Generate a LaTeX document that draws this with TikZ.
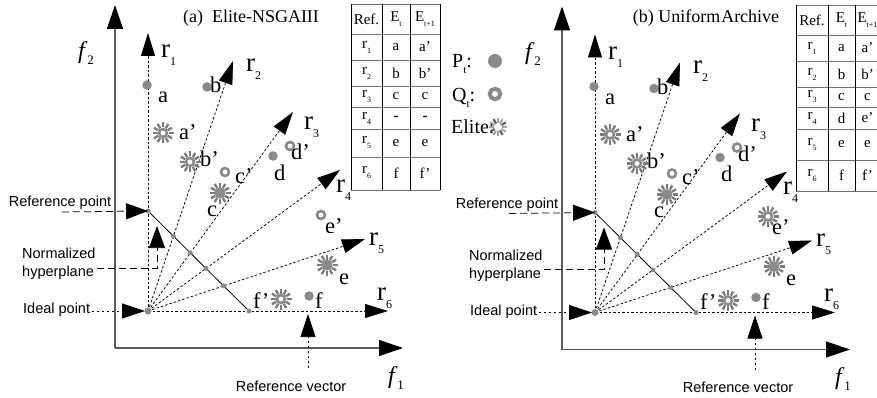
\documentclass[tikz,border=0pt]{standalone}
\usepackage{fontspec}
\setmainfont{Liberation Serif}
\newfontfamily\arialf{Liberation Sans}
\usetikzlibrary{arrows.meta}
\definecolor{axisgray}{HTML}{5A5A5A}
\definecolor{ptgray}{HTML}{8A8A8A}
\definecolor{elitegray}{HTML}{7C7C7C}
\definecolor{tabgray}{HTML}{707070}
\newcommand\rsb[1]{\raisebox{-8pt}{\fontsize{12}{12}\selectfont #1}}
\newcommand\tsb[1]{\raisebox{-5pt}{\fontsize{8}{8}\selectfont #1}}
\newcommand\fsb[1]{\raisebox{-6pt}{\fontsize{13}{13}\selectfont #1}}
\newcommand\lsb[1]{\raisebox{-6pt}{\fontsize{11}{11}\selectfont #1}}
\newcommand\panelcore{%
  \coordinate (o) at (115,348);
  \coordinate (yt) at (115,5);
  \coordinate (xt) at (403,348);
  \draw[axisline] (o) -- (yt);
  \draw[axisline] (o) -- (xt);
  \node[axlab] (f2) at (86,53) {\textit{f}\fsb{2}};
  \node[axlab] (f1) at (396,378) {\textit{f}\fsb{1}};
  \coordinate (ideal) at (148,311);
  \coordinate (ref) at (148,211);
  \coordinate (hend) at (249,311);
  \coordinate (t1) at (148,33);
  \coordinate (t2) at (233,61);
  \coordinate (t3) at (293,112);
  \coordinate (t4) at (340,170);
  \coordinate (t5) at (365,239);
  \coordinate (t6) at (388,311);
  \draw[ray] (ideal) -- (t1);
  \draw[ray] (ideal) -- (t2);
  \draw[ray] (ideal) -- (t3);
  \draw[ray] (ideal) -- (t4);
  \draw[ray] (ideal) -- (t5);
  \draw[ray] (ideal) -- (t6);
  \draw[hyper] (ref) -- (hend);
  \coordinate (h2) at (173.4,236.2);
  \coordinate (h3) at (190.3,252.9);
  \coordinate (h4) at (206,268.4);
  \coordinate (h5) at (223.6,285.9);
  \node[hdot] (nref) at (ref) {};
  \node[hdot] (nh2) at (h2) {};
  \node[hdot] (nh3) at (h3) {};
  \node[hdot] (nh4) at (h4) {};
  \node[hdot] (nh5) at (h5) {};
  \node[hdot] (nhend) at (hend) {};
  \node[idot] (nideal) at (ideal) {};
  \node[rlab] (r1) at (161,58) {r\rsb{1}};
  \node[rlab] (r2) at (246,72) {r\rsb{2}};
  \node[rlab] (r3) at (304,130) {r\rsb{3}};
  \node[rlab] (r4) at (336,193) {r\rsb{4}};
  \node[rlab] (r5) at (369,245) {r\rsb{5}};
  \node[rlab] (r6) at (377,300) {r\rsb{6}};
  % markers
  \node[pdot] (ma) at (147,85) {};
  \node[pdot] (mb) at (207,87) {};
  \pic at (163,133) {elite};
  \node[qring] (map) at (163,133) {};
  \pic at (190,162) {elite};
  \node[qring] (mbp) at (190,162) {};
  \node[qring] (mcp) at (225,172) {};
  \pic at (220,193) {elite};
  \node[pdot,minimum size=11pt] (mc) at (220,193) {};
  \node[pdot] (md) at (273,156) {};
  \node[qring] (mdp) at (290,146) {};
  \pic at (327,265) {elite};
  \node[pdot,minimum size=11pt] (me) at (327,265) {};
  \pic at (281,299) {elite};
  \node[qring] (mfp) at (281,299) {};
  \node[pdot] (mf) at (309,296) {};
  % point labels
  \node[plab] (la) at (158,103) {a};
  \node[plab] (lb) at (210,93) {b};
  \node[plab] (lap) at (179,140) {a'};
  \node[plab] (lbp) at (200,167) {b'};
  \node[plab] (lcp) at (235,183) {c'};
  \node[plab] (lc) at (207,216) {c};
  \node[plab] (ld) at (274,180) {d};
  \node[plab] (ldp) at (291,160) {d'};
  \node[plab] (lep) at (325,233) {e'};
  \node[plab] (le) at (339,284) {e};
  \node[plab] (lfp) at (253,308) {f'};
  \node[plab] (lf) at (315,308) {f};
  % side labels
  \node[sanslab] (rp) at (60,203) {Reference point};
  \coordinate (rps) at (62,212);
  \draw[leader] (rps) -- (ref);
  \node[sanslab,align=left,anchor=west] (nh) at (22,264) {Normalized\\hyperplane};
  \coordinate (nhs) at (97,268);
  \coordinate (nht) at (157,226);
  \draw[leader] (nhs) -| (nht);
  \node[sanslab,anchor=west] (ip) at (23,310) {Ideal point};
  \coordinate (ips) at (92,311);
  \draw[dotleader,shorten >=3pt] (ips) -- (ideal);
  \node[sanslab] (rv) at (291,386) {Reference vector};
  \coordinate (rvs) at (308,368);
  \coordinate (rvt) at (308,314);
  \draw[dotleader] (rvs) -- (rvt);
}
\begin{document}
\begin{tikzpicture}[x=1pt,y=-1pt,
  axisline/.style={draw=axisgray,line width=1.4pt,-{Triangle[length=24pt,width=16pt,color=black]}},
  ray/.style={line width=0.75pt,dash pattern=on 2.5pt off 2pt,-{Triangle[length=23pt,width=14pt]}},
  leader/.style={line width=0.75pt,dash pattern=on 7pt off 4pt,-{Triangle[length=22pt,width=16pt]}},
  dotleader/.style={line width=0.75pt,dash pattern=on 2pt off 3pt,-{Triangle[length=23pt,width=15pt]}},
  hyper/.style={line width=0.8pt},
  hdot/.style={circle,fill=ptgray,minimum size=5pt,inner sep=0pt},
  idot/.style={circle,fill=ptgray,minimum size=7pt,inner sep=0pt},
  pdot/.style={circle,fill=ptgray,minimum size=9.5pt,inner sep=0pt},
  qring/.style={circle,draw=ptgray,line width=2.6pt,fill=white,minimum size=8pt,inner sep=0pt},
  rlab/.style={font=\fontsize{27}{28}\selectfont,inner sep=0pt,anchor=base west},
  plab/.style={font=\fontsize{22.5}{24}\selectfont,inner sep=0pt,anchor=base west},
  axlab/.style={font=\fontsize{24}{26}\selectfont,inner sep=0pt},
  sanslab/.style={font=\arialf\fontsize{14.5}{18}\selectfont,inner sep=0pt},
  titlelab/.style={font=\fontsize{18}{19}\selectfont,inner sep=0pt},
  leglab/.style={font=\fontsize{20}{22}\selectfont,inner sep=0pt,anchor=base west},
  tabtext/.style={font=\fontsize{15}{16}\selectfont,inner sep=0pt},
  tabv/.style={draw=black,line width=0.8pt},
  tabh/.style={draw=tabgray,line width=0.9pt},
  elite/.pic={\foreach \q in {0,30,...,330}{\draw[elitegray,line width=2.3pt] (\q:5.5) -- (\q:10.5);}},
  eliteleg/.pic={\foreach \q in {0,30,...,330}{\draw[elitegray!70,line width=2pt] (\q:4) -- (\q:9);}
                 \foreach \q in {60,150,240,330}{\draw[elitegray!120,line width=2pt] (\q:4) -- (\q:9);}}
]
\useasboundingbox (0,0) rectangle (877,398);
\clip (0,0) rectangle (877,398);
\fill[white] (0,0) rectangle (877,398);
\begin{scope}[name prefix=a-]
  \panelcore
\end{scope}
\begin{scope}[name prefix=b-,shift={(447,1.5)}]
  \panelcore
  \pic at (321,215) {elite};
  \node[qring] (mep2) at (321,215) {};
\end{scope}
\begin{scope}[name prefix=a-]
  \node[qring] (mep) at (321,215) {};
\end{scope}
% titles
\node[titlelab] (titlea) at (251,18) {(a)\ \ Elite-NSGAIII};
\node[titlelab] (titleb) at (706,18) {(b) Uniform\hspace{1pt}Archive};
% legend
\node[leglab] (lgp) at (452,68) {P\lsb{t}:};
\node[pdot,minimum size=14pt] (lgpd) at (495,61) {};
\node[leglab] (lgq) at (452,102) {Q\lsb{t}:};
\node[qring,minimum size=10.5pt,line width=4pt] (lgqd) at (495,94) {};
\node[leglab] (lge) at (451,134) {Elite:};
\pic at (498,127) {eliteleg};
% table a
\foreach \y in {4,34,60,86,107,129,157,190} \draw[tabh] (351,\y) -- (440,\y);
\foreach \x in {351,382,410,440} \draw[tabv] (\x,4) -- (\x,190);
\node[tabtext] (ta00) at (366.5,19) {Ref.};
\node[tabtext] (ta01) at (396,19) {E\tsb{t}};
\node[tabtext] (ta02) at (425,19) {E\tsb{t+1}};
\node[tabtext] (ta10) at (366.5,47) {r\tsb{1}};
\node[tabtext] (ta11) at (396,47) {a};
\node[tabtext] (ta12) at (425,47) {a'};
\node[tabtext] (ta20) at (366.5,73) {r\tsb{2}};
\node[tabtext] (ta21) at (396,73) {b};
\node[tabtext] (ta22) at (425,73) {b'};
\node[tabtext] (ta30) at (366.5,96.5) {r\tsb{3}};
\node[tabtext] (ta31) at (396,96.5) {c};
\node[tabtext] (ta32) at (425,96.5) {c};
\node[tabtext] (ta40) at (366.5,118) {r\tsb{4}};
\node[tabtext] (ta41) at (396,118) {\textbf{-}};
\node[tabtext] (ta42) at (425,118) {\textbf{-}};
\node[tabtext] (ta50) at (366.5,143) {r\tsb{5}};
\node[tabtext] (ta51) at (396,143) {e};
\node[tabtext] (ta52) at (425,143) {e};
\node[tabtext] (ta60) at (366.5,173) {r\tsb{6}};
\node[tabtext] (ta61) at (396,173) {f};
\node[tabtext] (ta62) at (425,173) {f'};
% table b
\foreach \y in {5,35,61,87,107,129,160,191} \draw[tabh] (796,\y) -- (880,\y);
\foreach \x in {796,828,855,880} \draw[tabv] (\x,5) -- (\x,191);
\node[tabtext] (tb00) at (812,20) {Ref.};
\node[tabtext] (tb01) at (841.5,20) {E\tsb{t}};
\node[tabtext] (tb02) at (867.5,20) {E\tsb{t+1}};
\node[tabtext] (tb10) at (812,48) {r\tsb{1}};
\node[tabtext] (tb11) at (841.5,48) {a};
\node[tabtext] (tb12) at (867.5,48) {a'};
\node[tabtext] (tb20) at (812,74) {r\tsb{2}};
\node[tabtext] (tb21) at (841.5,74) {b};
\node[tabtext] (tb22) at (867.5,74) {b'};
\node[tabtext] (tb30) at (812,97) {r\tsb{3}};
\node[tabtext] (tb31) at (841.5,97) {c};
\node[tabtext] (tb32) at (867.5,97) {c};
\node[tabtext] (tb40) at (812,118) {r\tsb{4}};
\node[tabtext] (tb41) at (841.5,118) {d};
\node[tabtext] (tb42) at (867.5,118) {e'};
\node[tabtext] (tb50) at (812,144.5) {r\tsb{5}};
\node[tabtext] (tb51) at (841.5,144.5) {e};
\node[tabtext] (tb52) at (867.5,144.5) {e};
\node[tabtext] (tb60) at (812,175.5) {r\tsb{6}};
\node[tabtext] (tb61) at (841.5,175.5) {f};
\node[tabtext] (tb62) at (867.5,175.5) {f'};
\end{tikzpicture}
\end{document}
